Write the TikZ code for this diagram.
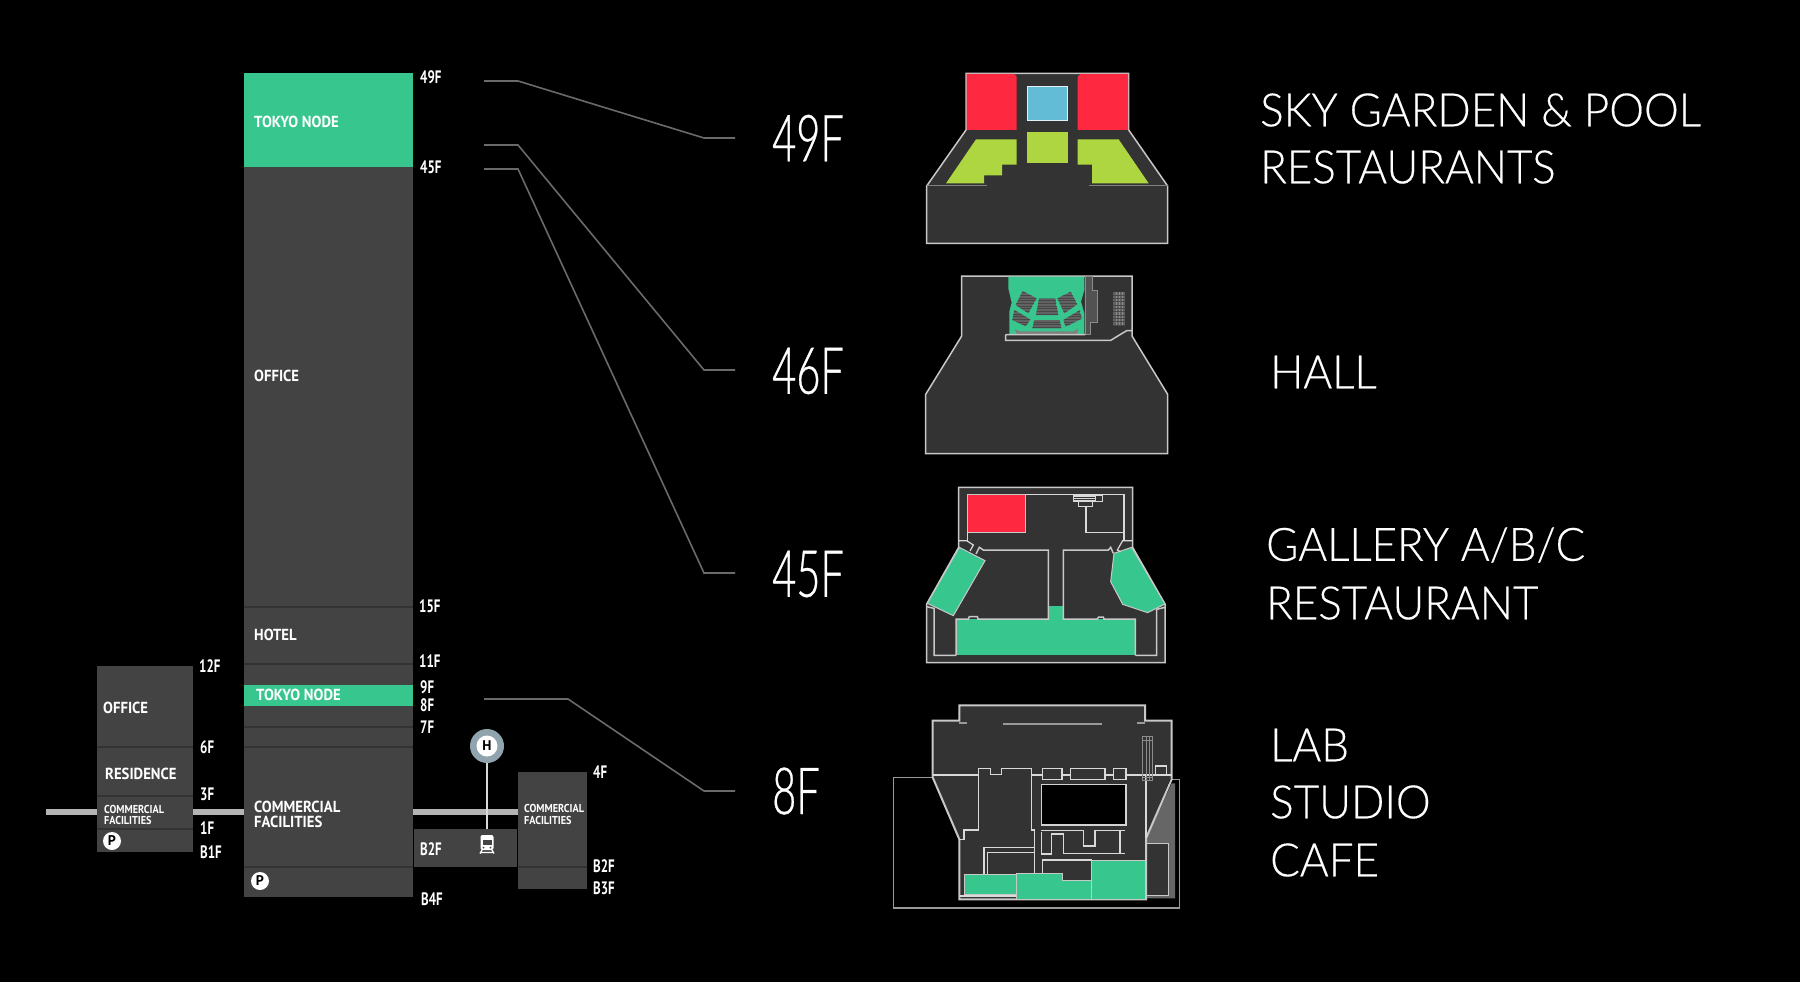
\documentclass[tikz,border=0pt]{standalone}
\usepackage{fontspec}
\setmainfont{PT Sans}
\newfontfamily\dinlight[FakeStretch=0.955,FakeBold=0.35]{Lato Light}
\newfontfamily\dinbig[FakeStretch=0.64,FakeBold=0.5]{Lato Light}
\newfontfamily\dinfloor[FakeStretch=0.72]{PT Sans}
\newfontfamily\dintag[FakeStretch=0.92]{PT Sans}
\newfontfamily\dinsmall[FakeStretch=0.89]{PT Sans}
\usetikzlibrary{positioning}
\definecolor{towergrey}{HTML}{434343}
\definecolor{plangrey}{HTML}{333333}
\definecolor{nodegreen}{HTML}{38C68F}
\definecolor{skyred}{HTML}{FE2840}
\definecolor{poolblue}{HTML}{62BCD5}
\definecolor{gardengreen}{HTML}{AED640}
\definecolor{roadgrey}{HTML}{B4B4B4}
\definecolor{leadergrey}{HTML}{6A6A6A}
\definecolor{wallgrey}{HTML}{C8C8C8}
\definecolor{heligrey}{HTML}{90A4AE}
\definecolor{seatgrey}{HTML}{626262}
\definecolor{seatline}{HTML}{474747}
\newcommand{\seatblock}[1]{
\begin{scope}
\clip #1 -- cycle;
\fill[seatgrey] #1 -- cycle;
\foreach \y in {90,98,...,210}\draw[line width=.5pt,seatline] (330,\y) -- (550,\y);
\end{scope}
}
\begin{document}
\begin{tikzpicture}[
x=1pt,y=-1pt,
block/.style={fill=towergrey},
divider/.style={draw=black!80,line width=1.5pt},
road/.style={fill=roadgrey},
leader/.style={draw=leadergrey,line width=1.6pt},
wall/.style={draw=wallgrey,line width=1.5pt,line join=miter},
heavywall/.style={draw=wallgrey,line width=2pt,line join=miter},
thinwall/.style={draw=wallgrey!70,line width=1.2pt},
tagtext/.style={anchor=west,inner sep=0,text=white,font=\fontsize{16}{16}\selectfont\dintag\bfseries},
smalltext/.style={anchor=west,inner sep=0,text=white,font=\fontsize{11.5}{11.5}\selectfont\dinsmall\bfseries},
floortext/.style={anchor=west,inner sep=0,text=white,font=\fontsize{18}{18}\selectfont\dinfloor\bfseries},
bigfloor/.style={anchor=west,inner sep=0,text=white,font=\fontsize{65}{65}\selectfont\dinbig},
usetext/.style={anchor=west,inner sep=0,text=white,font=\fontsize{46}{46}\selectfont\dinlight},
parking/.style={circle,fill=white,text=black,inner sep=0,minimum size=18pt,font=\fontsize{14}{14}\selectfont\bfseries},
]
\useasboundingbox (0,0) rectangle (1800,982);
\fill[black] (0,0) rectangle (1800,982);

%Roads
\fill[road] (46,809) rectangle (97,815);
\fill[road] (193,809) rectangle (244,815);
\fill[road] (413,809) rectangle (519,815);

%Buildings
\fill[block] (97,666) rectangle (193,852);
\fill[block] (244,167) rectangle (413,897);
\fill[block] (414,829) rectangle (517,867);
\fill[block] (518,772) rectangle (587,889);
\fill[nodegreen] (244,73) rectangle (413,167);
\fill[nodegreen] (244,685) rectangle (413,706);
\foreach \y in {747,796,829}\draw[divider] (97,\y) -- (193,\y);
\foreach \y in {607,664,727,747,867}\draw[divider] (244,\y) -- (413,\y);
\draw[divider] (518,867) -- (587,867);

%Nodes
\node[tagtext] (tokyotop) at (254,122) {TOKYO NODE};
\node[tagtext] (officemain) at (254,376) {OFFICE};
\node[tagtext] (hotel) at (254,635) {HOTEL};
\node[tagtext] (tokyoband) at (256,695) {TOKYO NODE};
\node[tagtext] (commercialmain) at (254,807) {COMMERCIAL};
\node[tagtext] (facilitiesmain) at (254,822) {FACILITIES};
\node[tagtext] (officeleft) at (103,708) {OFFICE};
\node[tagtext] (residence) at (105,774) {RESIDENCE};
\node[smalltext] (commercialleft) at (104,809) {COMMERCIAL};
\node[smalltext] (facilitiesleft) at (104,820) {FACILITIES};
\node[smalltext] (commercialright) at (524,808) {COMMERCIAL};
\node[smalltext] (facilitiesright) at (524,820) {FACILITIES};
\node[parking] (parkingleft) at (112,841) {P};
\node[parking] (parkingmain) at (260,881) {P};

\node[floortext] (f49) at (420,77) {49F};
\node[floortext] (f45) at (420,167) {45F};
\node[floortext] (f15) at (419,606) {15F};
\node[floortext] (f11) at (419,661) {11F};
\node[floortext] (f9) at (420,687) {9F};
\node[floortext] (f8) at (420,705) {8F};
\node[floortext] (f7) at (420,727) {7F};
\node[floortext] (fb4) at (421,899) {B4F};
\node[floortext] (fb2station) at (420,849) {B2F};
\node[floortext] (f12left) at (199,666) {12F};
\node[floortext] (f6left) at (200,747) {6F};
\node[floortext] (f3left) at (200,794) {3F};
\node[floortext] (f1left) at (200,828) {1F};
\node[floortext] (fb1left) at (200,852) {B1F};
\node[floortext] (f4right) at (593,772) {4F};
\node[floortext] (fb2right) at (593,866) {B2F};
\node[floortext] (fb3right) at (593,888) {B3F};

\node[bigfloor] (big49) at (772,138) {49F};
\node[bigfloor] (big46) at (772,371) {46F};
\node[bigfloor] (big45) at (772,574) {45F};
\node[bigfloor] (big8) at (772,791) {8F};

\node[usetext] (skygarden) at (1260,110) {SKY GARDEN \& POOL};
\node[usetext] (restaurants) at (1260,167) {RESTAURANTS};
\node[usetext] (hall) at (1270,372) {HALL};
\node[usetext] (gallery) at (1266,545) {GALLERY A/B/C};
\node[usetext] (restaurant) at (1266,603) {RESTAURANT};
\node[usetext] (lab) at (1270,745) {LAB};
\node[usetext] (studio) at (1270,802) {STUDIO};
\node[usetext] (cafe) at (1270,860) {CAFE};

%Heliport and station
\node[circle,fill=heligrey,minimum size=34pt,inner sep=0] (heliport) at (487,746) {};
\node[circle,fill=white,minimum size=21pt,inner sep=0,font=\fontsize{14}{14}\selectfont\bfseries] (helimark) at (heliport) {H};
\coordinate (station) at (487,829);
\draw[draw=white!85!black,line width=2pt] (heliport) -- (station);
\fill[white,rounded corners=2pt] (480.5,835) rectangle (493.5,850);
\fill[towergrey] (482.5,839.5) rectangle (491.5,844.5);
\fill[towergrey] (483.5,847.5) circle (1) (490.5,847.5) circle (1);
\draw[white,line width=1.3pt] (482,850) -- (480,853.5) (492,850) -- (494,853.5) (481,852.5) -- (493,852.5);

%Lines
\coordinate (l49a) at (484,81);
\coordinate (l49b) at (518,81);
\coordinate (l49c) at (704,138);
\coordinate (l49d) at (735,138);
\coordinate (l46a) at (484,145);
\coordinate (l46b) at (518,145);
\coordinate (l46c) at (704,370);
\coordinate (l46d) at (735,370);
\coordinate (l45a) at (484,169);
\coordinate (l45b) at (518,169);
\coordinate (l45c) at (704,573);
\coordinate (l45d) at (735,573);
\coordinate (l8a) at (484,699);
\coordinate (l8b) at (568,699);
\coordinate (l8c) at (704,791);
\coordinate (l8d) at (735,791);
\draw[leader] (l49a) -- (l49b) -- (l49c) -- (l49d);
\draw[leader] (l46a) -- (l46b) -- (l46c) -- (l46d);
\draw[leader] (l45a) -- (l45b) -- (l45c) -- (l45d);
\draw[leader] (l8a) -- (l8b) -- (l8c) -- (l8d);

%Plan 49F
\begin{scope}[shift={(900,50)},scale=1/3]
\fill[plangrey] (198,70) -- (686,70) -- (686,240) -- (803,408) -- (803,580) -- (80,580) -- (80,408) -- (198,240) -- cycle;
\draw[wall] (198,70) -- (686,70) -- (686,240) -- (803,408) -- (803,580) -- (80,580) -- (80,408) -- (198,240) -- cycle;
\fill[skyred] (200,72) -- (342,72) -- (350,80) -- (350,240) -- (200,240) -- cycle;
\fill[skyred] (533,80) -- (541,72) -- (684,72) -- (684,240) -- (533,240) -- cycle;
\fill[poolblue,draw=white!80!poolblue,line width=1pt] (382,110) rectangle (502,212);
\fill[gardengreen] (382,246) rectangle (504,338);
\fill[gardengreen] (228,268) -- (350,268) -- (350,344) -- (306,344) -- (306,376) -- (252,376) -- (252,400) -- (138,400) -- cycle;
\fill[gardengreen] (533,268) -- (656,268) -- (746,400) -- (576,400) -- (576,344) -- (533,344) -- cycle;
\draw[draw=black!50,line width=1.5pt] (80,406) -- (260,406) (568,406) -- (803,406);
\end{scope}

%Plan 46F
\begin{scope}[shift={(900,260)},scale=1/3]
\fill[plangrey] (185,48) -- (696,48) -- (696,228) -- (803,403) -- (803,581) -- (77,581) -- (77,403) -- (185,228) -- cycle;
\draw[wall] (185,48) -- (696,48) -- (696,228) -- (803,403) -- (803,581) -- (77,581) -- (77,403) -- (185,228) -- cycle;
\fill[nodegreen] (325,50) -- (553,50) -- (553,90) -- (543,125) -- (553,160) -- (553,222) -- (328,222) -- (328,155) -- (335,128) -- (325,85) -- cycle;
\fill[black!68,draw=black!45,line width=.8pt] (556,50) -- (578,50) -- (578,92) -- (593,92) -- (593,187) -- (570,187) -- (570,222) -- (556,222) -- cycle;
\seatblock{(368,93) -- (410,115) -- (385,160) -- (347,135)}
\seatblock{(417,116) -- (466,116) -- (475,165) -- (408,165)}
\seatblock{(472,115) -- (512,95) -- (532,133) -- (493,160)}
\seatblock{(343,150) -- (391,178) -- (378,199) -- (337,180)}
\seatblock{(403,180) -- (480,180) -- (484,205) -- (397,205)}
\seatblock{(490,180) -- (540,150) -- (545,176) -- (497,200)}
\fill[black!50] (345,208) -- (358,214) -- (520,214) -- (535,205) -- (530,222) -- (350,222) -- cycle;
\fill[black!62] (640,97) rectangle (674,195);
\foreach \x in {648,658,666}\draw[draw=black!45,line width=.6pt] (\x,97) -- (\x,195);
\foreach \y in {105,115,...,195}\draw[draw=black!72,line width=.4pt] (640,\y) -- (674,\y);
\draw[wall] (317,224) -- (556,224) (317,224) -- (317,241) -- (632,241) -- (680,212) -- (696,212);
\end{scope}

%Plan 45F
\begin{scope}[shift={(900,470)},scale=1/3]
\fill[plangrey] (176,52) -- (698,52) -- (698,232) -- (795,402) -- (795,578) -- (80,578) -- (80,402) -- (176,232) -- cycle;
\draw[wall] (176,52) -- (698,52) -- (698,232) -- (795,402) -- (795,578) -- (80,578) -- (80,402) -- (176,232) -- cycle;
\fill[skyred,draw=wallgrey,line width=1pt] (202,73) rectangle (377,186);
\fill[nodegreen,draw=wallgrey,line width=1pt] (178,232) -- (255,272) -- (160,437) -- (82,400) -- cycle;
\fill[nodegreen,draw=wallgrey,line width=1pt] (695,232) -- (795,402) -- (743,428) -- (668,403) -- (632,335) -- (642,250) -- cycle;
\fill[nodegreen] (445,408) rectangle (488,447);
\fill[nodegreen] (168,447) rectangle (706,556);
\draw[wall] (168,556) -- (168,447) -- (205,447) -- (208,440) -- (232,440) -- (234,447) -- (445,447) -- (445,240) -- (250,240) -- (238,232) -- (228,252);
\draw[wall] (706,556) -- (706,447) -- (612,447) -- (610,441) -- (596,441) -- (592,447) -- (490,447) -- (490,240) -- (625,240) -- (632,232) -- (640,250);
\draw[wall] (80,410) -- (102,415) -- (102,556) -- (168,556) (795,412) -- (770,418) -- (770,556) -- (706,556);
\draw[thinwall] (377,73) -- (672,73) -- (672,187) -- (558,187) -- (558,108);
\draw[thinwall] (202,186) -- (202,212) (672,187) -- (672,212);
\draw[thinwall] (176,212) -- (200,212) -- (220,225) -- (210,243);
\draw[thinwall] (698,212) -- (668,212) -- (652,240) -- (662,245);
\draw[thinwall,line width=.8pt] (520,75) rectangle (585,95) (535,95) rectangle (578,108) (585,75) rectangle (607,95);
\foreach \y in {80,85,90}\draw[thinwall,line width=.8pt] (520,\y) -- (585,\y);
\end{scope}

%Plan 8F
\begin{scope}[shift={(880,690)},scale=1/3]
\draw[draw=black!40,line width=1.3pt] (158,262) -- (40,262) -- (40,654) -- (898,654) -- (898,268) -- (875,268);
\fill[black!60] (875,280) -- (885,280) -- (885,625) -- (798,625) -- (798,445) -- cycle;
\fill[plangrey,draw=wallgrey,line width=1pt] (800,460) rectangle (866,615);
\fill[plangrey] (238,46) -- (795,46) -- (795,92) -- (875,92) -- (875,255) -- (798,445) -- (798,628) -- (238,628) -- (238,448) -- (158,255) -- (158,92) -- (238,92) -- cycle;
\draw[heavywall] (238,46) -- (795,46) -- (795,92) -- (875,92) -- (875,268) -- (798,445) -- (798,628) -- (238,628) -- (238,448) -- (158,262) -- (158,92) -- (238,92) -- cycle;
\draw[draw=black!40,line width=2pt] (238,98) -- (260,98) (368,102) -- (665,102) (772,98) -- (796,98);
\draw[thinwall] (160,255) -- (296,255);
\draw[thinwall] (238,448) -- (252,448) -- (252,420) -- (296,420) -- (296,235) -- (332,235) -- (332,254) -- (365,254) -- (365,235) -- (455,235) -- (455,420) -- (463,420) -- (463,552);
\draw[thinwall] (455,255) -- (488,255) (546,255) -- (572,255) (675,255) -- (700,255) (738,255) -- (875,255);
\draw[thinwall] (488,235) rectangle (546,268) (572,235) rectangle (675,268) (700,235) rectangle (738,268);
\draw[thinwall] (826,255) -- (826,228) -- (860,228) -- (860,255);
\draw[thinwall] (798,255) -- (798,445);
\foreach \x in {788,798,808,816}\draw[draw=black!45,line width=.8pt] (\x,138) -- (\x,272);
\draw[draw=black!45,line width=.8pt] (788,140) -- (816,140) (788,152) -- (816,152) (788,262) -- (816,262) (788,272) -- (816,272);
\fill[black,draw=wallgrey!80,line width=1.2pt] (485,284) rectangle (738,405);
\draw[thinwall] (482,422) -- (610,422) -- (610,468) -- (645,468) -- (645,422) -- (735,422);
\draw[thinwall] (720,422) -- (720,490) (735,490) -- (550,490) -- (550,432) -- (514,432) -- (514,492) -- (485,492) -- (485,425);
\draw[thinwall] (312,552) -- (312,473) -- (463,473) (322,552) -- (322,488) -- (463,488);
\draw[thinwall] (487,550) -- (487,510) -- (635,510);
\draw[thinwall] (240,618) -- (410,618);
\fill[nodegreen,draw=wallgrey,line width=1pt] (253,553) rectangle (410,612);
\fill[nodegreen,draw=wallgrey,line width=1pt] (410,550) -- (546,550) -- (546,570) -- (635,570) -- (635,510) -- (795,510) -- (795,628) -- (410,628) -- cycle;
\draw[draw=wallgrey,line width=1pt] (635,570) -- (635,628);
\end{scope}
\end{tikzpicture}
\end{document}
